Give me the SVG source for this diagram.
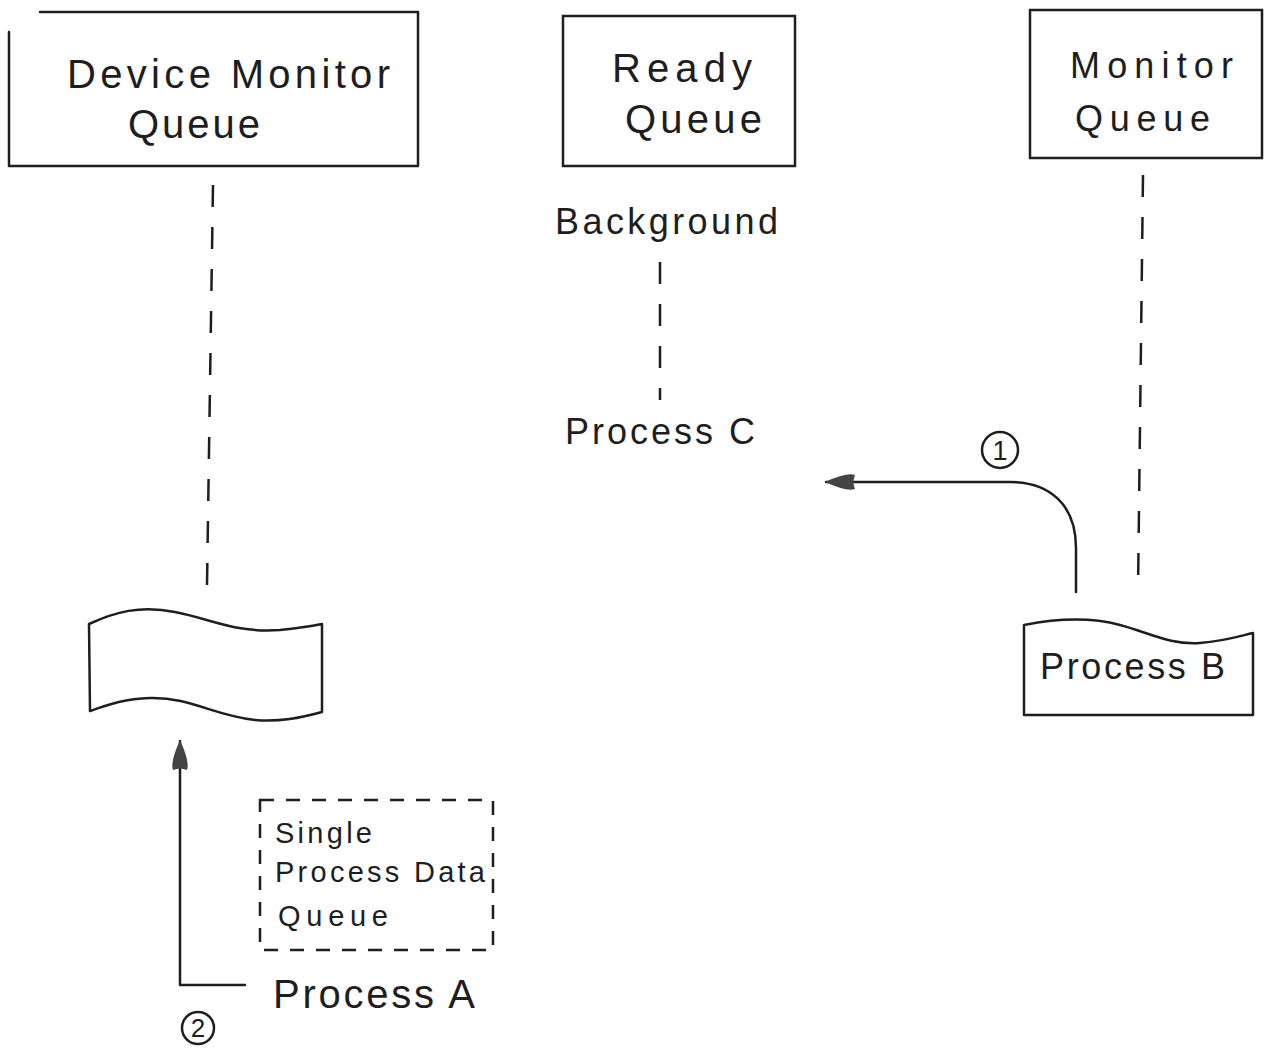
<svg xmlns="http://www.w3.org/2000/svg" width="1265" height="1051" viewBox="0 0 1265 1051">
<defs>
<style>
.ln{fill:none;stroke:#1e1e1e;stroke-width:2.5;stroke-linecap:round;stroke-linejoin:round}
.dash{fill:none;stroke:#1e1e1e;stroke-width:2.5;stroke-dasharray:22 20}
.box{fill:#fff;stroke:#1e1e1e;stroke-width:2.5}
.t{font-family:"Liberation Sans",Arial,sans-serif;fill:#1e1e1e}
.big{font-size:40px}
.mid{font-size:36px}
.sm{font-size:29px}
</style>
<marker id="ah" viewBox="0 0 30 18" refX="29" refY="9" markerWidth="30" markerHeight="18" orient="auto-start-reverse" markerUnits="userSpaceOnUse">
<path d="M0,2 Q8,-1 30,9 Q8,19 0,16 Q3,9 0,2 Z" fill="#444"/>
</marker>
</defs>
<rect width="1265" height="1051" fill="#fff"/>
<g id="device-monitor-queue">
<path class="ln" d="M40,12 H418 V166 H9 V32"/>
<text class="t big" x="67" y="88" textLength="323" lengthAdjust="spacing">Device Monitor</text>
<text class="t big" x="128" y="138" textLength="132" lengthAdjust="spacing">Queue</text>
</g>
<g id="ready-queue">
<rect class="box" x="563" y="16" width="232" height="150"/>
<text class="t big" x="612" y="82" textLength="140" lengthAdjust="spacing">Ready</text>
<text class="t big" x="625" y="133" textLength="137" lengthAdjust="spacing">Queue</text>
</g>
<g id="monitor-queue">
<rect class="box" x="1030" y="10" width="232" height="148"/>
<text class="t mid" x="1070" y="78" textLength="163" lengthAdjust="spacing">Monitor</text>
<text class="t mid" x="1075" y="131" textLength="135" lengthAdjust="spacing">Queue</text>
</g>
<g id="background">
<text class="t mid" x="555" y="234" textLength="223" lengthAdjust="spacing">Background</text>
</g>
<g id="process-c">
<text class="t mid" x="565" y="444" textLength="190" lengthAdjust="spacing">Process C</text>
</g>
<g id="device-queue-entry">
<path class="ln" d="M89,624 C115,612 140,605 175,612 C215,620 235,633 280,630 C300,628 312,626 322,624 V712 C300,718 280,722 255,720 C215,716 190,697 150,698 C120,699 105,706 90,711 Z"/>
</g>
<g id="process-b">
<path class="ln" d="M1024,625 C1060,618 1090,617 1120,625 C1150,633 1170,645 1200,643 C1225,641 1240,636 1253,633 V715 H1024 Z"/>
<text class="t mid" x="1040" y="679" textLength="185" lengthAdjust="spacing">Process B</text>
</g>
<g id="data-queue">
<rect x="260" y="800" width="233" height="150" fill="none" stroke="#1e1e1e" stroke-width="2.5" stroke-dasharray="14 12"/>
<text class="t sm" x="275" y="843" textLength="97" lengthAdjust="spacing">Single</text>
<text class="t sm" x="275" y="882" textLength="210" lengthAdjust="spacing">Process Data</text>
<text class="t sm" x="278" y="926" textLength="110" lengthAdjust="spacing">Queue</text>
</g>
<g id="process-a">
<text class="t big" x="273" y="1008" textLength="202" lengthAdjust="spacing">Process A</text>
</g>
<g id="connectors">
<path class="dash" d="M213,185 L207,585"/>
<path class="dash" d="M660,262 V400"/>
<path class="dash" d="M1143,175 L1138,592"/>
<path class="ln" marker-end="url(#ah)" d="M1076,592 V548 C1076,505 1050,482 1010,482 H826"/>
<path class="ln" marker-end="url(#ah)" d="M245,985 H180 V741"/>
<circle class="ln" cx="1000" cy="450" r="18"/>
<text class="t" x="1000" y="460" font-size="27" text-anchor="middle">1</text>
<circle class="ln" cx="198" cy="1028" r="16"/>
<text class="t" x="198" y="1037" font-size="26" text-anchor="middle">2</text>
</g>
</svg>
